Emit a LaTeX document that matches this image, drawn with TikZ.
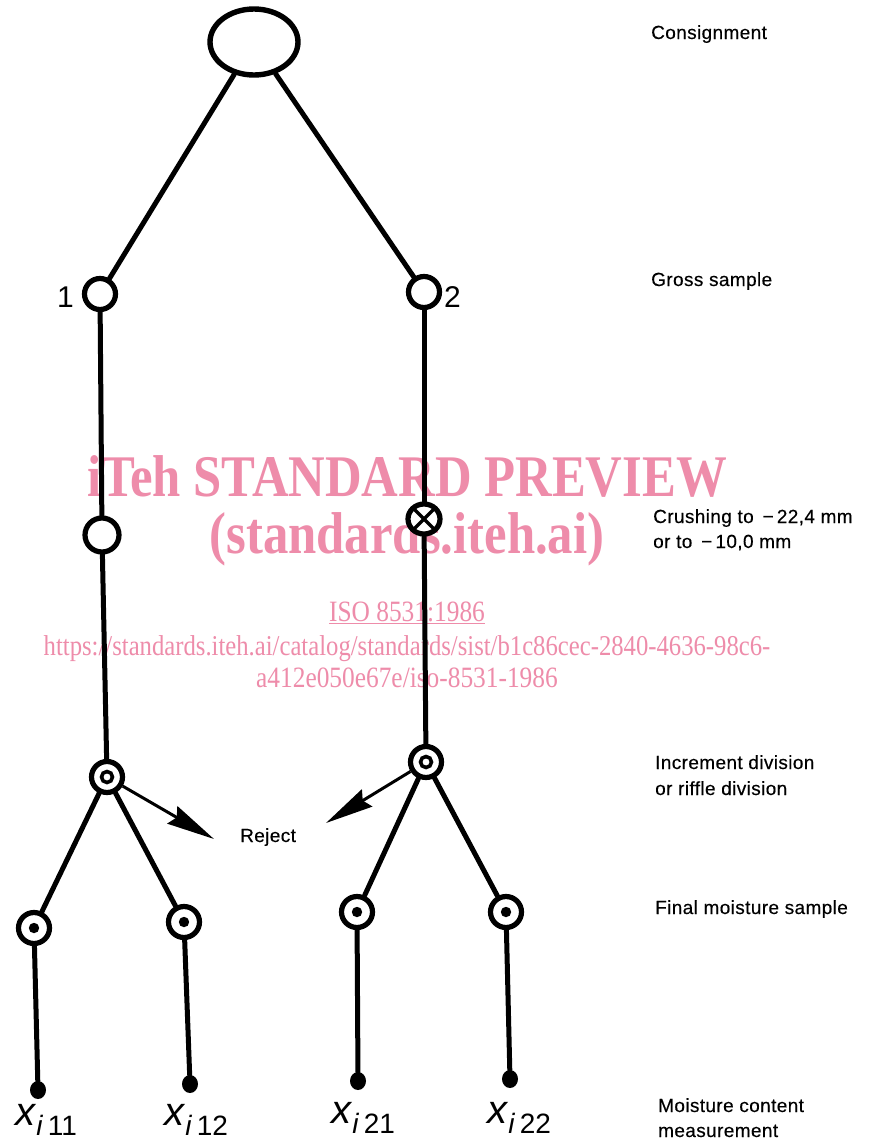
\documentclass[tikz,border=0pt]{standalone}
\usepackage{fontspec}
\usetikzlibrary{shapes.geometric,arrows.meta}
\newfontfamily\labfont{Liberation Sans}[LetterSpace=2,BoldFont={Liberation Sans},BoldFeatures={FakeBold=0.3}]
\newfontfamily\numfont{Liberation Sans}
\newfontfamily\wmfont{Liberation Serif}[FakeStretch=0.86]
\definecolor{wmpink}{RGB}{238,140,170}
\tikzset{
  lbl/.style={anchor=base west,font=\labfont\bfseries\fontsize{19}{21}\selectfont,inner sep=0pt,align=left},
  wm/.style={text=wmpink,inner sep=0pt,anchor=base},
  edge/.style={line width=5pt,line cap=round},
  ring/.style={circle,draw,line width=5.2pt,minimum size=31pt,inner sep=0pt,fill=white},
  xring/.style={ring,ellipse,minimum width=32pt,minimum height=30pt,
    path picture={\draw[black,line width=3.4pt]
      ([shift={(-10pt,-10pt)}]path picture bounding box.center) -- ([shift={(10pt,10pt)}]path picture bounding box.center)
      ([shift={(-10pt,10pt)}]path picture bounding box.center) -- ([shift={(10pt,-10pt)}]path picture bounding box.center);}},
  dring/.style={ring,path picture={\draw[black,line width=3.6pt] (path picture bounding box.center) circle (5.5pt);}},
  sring/.style={ring,path picture={\fill[black] (path picture bounding box.center) circle (5.2pt);}},
  mdot/.style={ellipse,fill,minimum width=16pt,minimum height=18pt,inner sep=0pt},
  rej/.style={-{Stealth[length=48pt,width=20pt,inset=5pt]},line width=3pt},
  numlbl/.style={anchor=base west,inner sep=0pt,font=\numfont\fontsize{30}{32}\selectfont},
  xlab/.style={anchor=base,inner sep=0pt,font=\numfont\fontsize{40}{42}\selectfont}
}
\newcommand{\xsub}[1]{\textit{x}\raisebox{-10pt}{\fontsize{28}{30}\selectfont\textit{i}\,#1}}
\begin{document}
\begin{tikzpicture}[x=1pt,y=-1pt]
\path[use as bounding box,fill=white] (0,0) rectangle (874,1146);

% preview watermark
\node[wm,font=\wmfont\bfseries\fontsize{59}{60}\selectfont] (wm1) at (407,496) {iTeh STANDARD PREVIEW};
\node[wm,font=\wmfont\bfseries\fontsize{59}{60}\selectfont] (wm2) at (407,553) {(standards.iteh.ai)};
\node[wm,font=\wmfont\fontsize{29.5}{30}\selectfont] (wm3) at (407,621) {\underline{ISO 8531:1986}};
\node[wm,font=\wmfont\fontsize{28.7}{30}\selectfont] (wm4) at (407,655) {https://standards.iteh.ai/catalog/standards/sist/b1c86cec-2840-4636-98c6-};
\node[wm,font=\wmfont\fontsize{29.5}{30}\selectfont] (wm5) at (407,687) {a412e050e67e/iso-8531-1986};

% sampling tree
\node[ellipse,draw,line width=5.4pt,minimum width=88pt,minimum height=66pt,inner sep=0pt] (E) at (254,42) {};
\node[ring] (G1) at (100,294) {};
\node[ring] (G2) at (424,292) {};
\node[ring,minimum height=34pt] (C1) at (102,535) {};
\node[xring] (C2) at (424,519) {};
\node[dring] (D1) at (107,777) {};
\node[dring] (D2) at (426,762) {};
\node[sring] (F11) at (34,928) {};
\node[sring] (F12) at (184,922) {};
\node[sring] (F21) at (357,912) {};
\node[sring] (F22) at (506,912) {};
\node[mdot] (M11) at (38,1090) {};
\node[mdot] (M12) at (190,1084) {};
\node[mdot] (M21) at (358,1081) {};
\node[mdot] (M22) at (510,1079) {};
\coordinate (R1) at (214,839);
\coordinate (R2) at (326,823);

\draw[edge] (E) -- (G1);
\draw[edge] (E) -- (G2);
\draw[edge] (G1) -- (C1);
\draw[edge] (G2) -- (C2);
\draw[edge] (C1) -- (D1);
\draw[edge] (C2) -- (D2);
\draw[edge] (D1) -- (F11);
\draw[edge] (D1) -- (F12);
\draw[edge] (D2) -- (F21);
\draw[edge] (D2) -- (F22);
\draw[edge] (F11) -- (M11);
\draw[edge] (F12) -- (M12);
\draw[edge] (F21) -- (M21);
\draw[edge] (F22) -- (M22);
\draw[rej] (D1) -- (R1);
\draw[rej] (D2) -- (R2);

% node numbers and labels
\node[numlbl] (n1) at (57,307) {1};
\node[numlbl] (n2) at (444,307) {2};
\node[lbl] (rej) at (240,842) {Reject};

\node[xlab] (x11) at (46,1125) {\xsub{11}};
\node[xlab] (x12) at (196,1125) {\xsub{12}};
\node[xlab] (x21) at (363,1123) {\xsub{21}};
\node[xlab] (x22) at (519,1123) {\xsub{22}};

\node[lbl] (t1) at (651,39) {Consignment};
\node[lbl] (t2) at (651,286) {Gross sample};
\node[lbl] (t3) at (653,523) {Crushing to\ \,−\,22,4 mm};
\node[lbl] (t3b) at (653,548) {or to\ \,−\,10,0 mm};
\node[lbl] (t4) at (655,769) {Increment division};
\node[lbl] (t4b) at (655,795) {or riffle division};
\node[lbl] (t5) at (655,914) {Final moisture sample};
\node[lbl] (t6) at (658,1112) {Moisture content};
\node[lbl] (t6b) at (658,1137) {measurement};
\end{tikzpicture}
\end{document}
